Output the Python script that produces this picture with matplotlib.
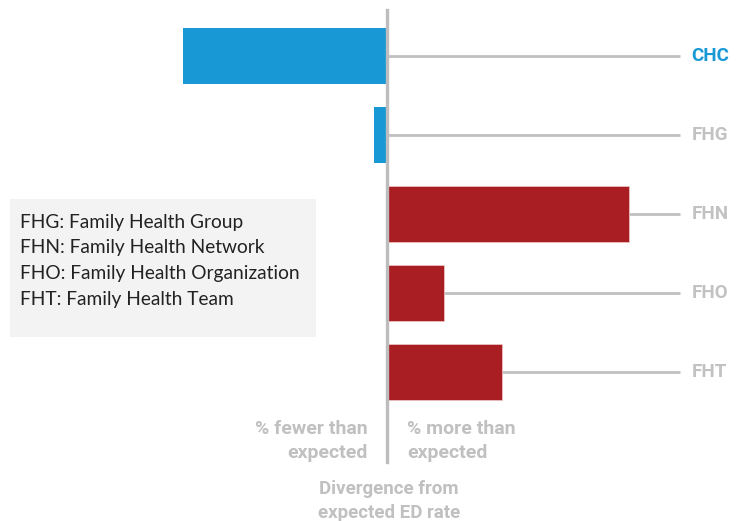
import matplotlib
matplotlib.use("Agg")
import matplotlib.pyplot as plt
from matplotlib.patches import Rectangle

# data: divergence from expected ED rate (%)
categories = ["CHC", "FHG", "FHN", "FHO", "FHT"]
divergence = [-35.4, -2.3, 42.0, 9.9, 20.0]
label_colors = ["#1899d6", "#c2c2c2", "#c2c2c2", "#c2c2c2", "#c2c2c2"]
legend_lines = [
    "FHG: Family Health Group",
    "FHN: Family Health Network",
    "FHO: Family Health Organization",
    "FHT: Family Health Team",
]

BLUE = "#1899d6"
RED = "#a81e23"
GREY = "#c0c0c0"
BOLD_FONT = "Roboto"

fig = plt.figure(figsize=(7.4, 5.21), dpi=100)
ax = fig.add_axes([0, 0, 1, 1])
ax.set_xlim(-67.2, 61.3)
ax.set_ylim(5.886, -0.709)
ax.axis("off")

line_end = 50.9
for i, (cat, v) in enumerate(zip(categories, divergence)):
    color = BLUE if v < 0 else RED
    ax.barh(i, v, height=0.72, color=color, edgecolor="#f0c8c8" if v > 0 else "none",
            linewidth=0.5, zorder=2)
    start = max(v, 0)
    ax.plot([start, line_end], [i, i], color=GREY, lw=2.0, zorder=1,
            solid_capstyle="butt")
    ax.text(line_end + 2.0, i, cat, color=label_colors[i], fontsize=13.5,
            fontweight="bold", family=BOLD_FONT, va="center", ha="left")

# zero axis
ax.axvline(0, ymin=0.113, ymax=0.981, color="#bdbdbd", lw=2.4, zorder=3)

# legend box
box = Rectangle((10 / 740, 1 - 337 / 521), 306 / 740, 138 / 521,
                transform=ax.transAxes, facecolor="#f3f3f3", edgecolor="none", zorder=0)
ax.add_patch(box)
for k, line in enumerate(legend_lines):
    ax.text(20 / 740, 1 - (222 + 25.7 * k) / 521, line, transform=ax.transAxes,
            fontsize=13.8, family="Lato", color="#222222", va="center", ha="left")

# bottom annotations
ax.text(368 / 740, 1 - 441 / 521, "% fewer than\nexpected", transform=ax.transAxes,
        ha="right", va="center", color=GREY, fontsize=14, fontweight="bold",
        family=BOLD_FONT, linespacing=1.45)
ax.text(407 / 740, 1 - 441 / 521, "% more than\nexpected", transform=ax.transAxes,
        ha="left", va="center", color=GREY, fontsize=14, fontweight="bold",
        family=BOLD_FONT, linespacing=1.45)
ax.text(389 / 740, 1 - 501 / 521, "Divergence from\nexpected ED rate", transform=ax.transAxes,
        ha="center", va="center", color=GREY, fontsize=13.5, fontweight="bold",
        family=BOLD_FONT, linespacing=1.45)

fig.savefig("out.png", dpi=100)
